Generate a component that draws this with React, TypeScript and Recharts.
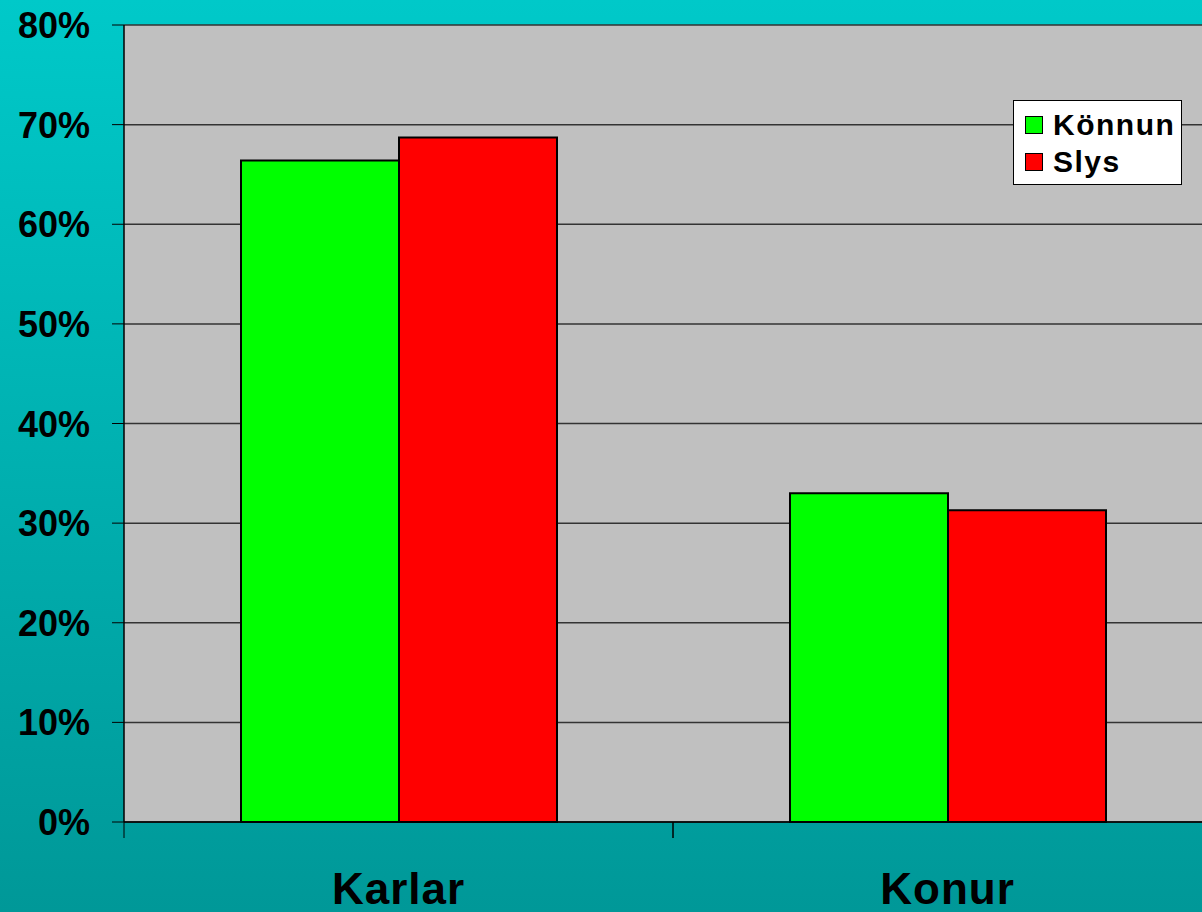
import React from "react";
import { BarChart, Bar, XAxis, YAxis, CartesianGrid } from "recharts";

const categories = ["Karlar", "Konur"];
const konnun = [66.4, 33.0];
const slys = [68.7, 31.3];
const yTicks = [0, 10, 20, 30, 40, 50, 60, 70, 80];
const legendItems = [
  { label: "Könnun", color: "#00ff00" },
  { label: "Slys", color: "#ff0000" },
];

const data = categories.map((c, i) => ({ name: c, Könnun: konnun[i], Slys: slys[i] }));

const FONT = "'Liberation Sans', Arial, sans-serif";

const XTick = (props: any) => {
  const { x, y, payload, bandSize } = props;
  const half = (bandSize || 549) / 2;
  return (
    <g>
      <line x1={x - half} y1={y} x2={x - half} y2={y + 16} stroke="#000" strokeWidth={1} />
      <line x1={x + half} y1={y} x2={x + half} y2={y + 16} stroke="#000" strokeWidth={1} />
      <text x={x} y={y + 82} textAnchor="middle" fontFamily={FONT} fontWeight="bold" fontSize={44} letterSpacing={1} fill="#000">
        {payload.value}
      </text>
    </g>
  );
};

const YTick = (props: any) => {
  const { x, y, payload } = props;
  return (
    <text x={x - 20} y={y + 13} textAnchor="end" fontFamily={FONT} fontWeight="bold" fontSize={36} fill="#000">
      {payload.value}%
    </text>
  );
};

const LegendBox = () => (
  <div
    style={{
      position: "absolute",
      left: 1013,
      top: 100,
      width: 169,
      height: 85,
      background: "#fff",
      border: "1px solid #000",
      fontFamily: FONT,
      fontWeight: "bold",
      fontSize: 30,
      boxSizing: "border-box",
      paddingLeft: 11,
      paddingTop: 5,
    }}
  >
    {legendItems.map((it) => (
      <div key={it.label} style={{ display: "flex", alignItems: "center", height: 37, letterSpacing: 1.5 }}>
        <span
          style={{
            display: "inline-block",
            width: 18,
            height: 18,
            background: it.color,
            border: "1px solid #000",
            boxSizing: "border-box",
            marginRight: 10,
          }}
        />
        <span>{it.label}</span>
      </div>
    ))}
  </div>
);

export default function App() {
  return (
    <div
      style={{
        position: "fixed",
        left: 0,
        top: 0,
        width: 1202,
        height: 912,
        overflow: "hidden",
        background: "linear-gradient(to bottom, #00c9c9 0%, #009898 100%)",
      }}
    >
      <BarChart
        width={1230}
        height={912}
        data={data}
        margin={{ top: 25, right: 8, bottom: 0, left: 0 }}
        barCategoryGap={117}
        barGap={0}
      >
        <CartesianGrid vertical={false} stroke="#333" strokeWidth={1.5} fill="#c0c0c0" fillOpacity={1} />
        <XAxis
          dataKey="name"
          height={90}
          tickLine={false}
          tickSize={0}
          tickMargin={0}
          axisLine={{ stroke: "#000", strokeWidth: 1.5 }}
          tick={<XTick bandSize={549} />}
          interval={0}
        />
        <YAxis
          width={124}
          domain={[0, 80]}
          ticks={yTicks}
          interval={0}
          tickSize={12}
          tickLine={{ stroke: "#000" }}
          axisLine={{ stroke: "#000", strokeWidth: 1.5 }}
          tick={<YTick />}
        />
        <Bar dataKey="Könnun" fill="#00ff00" stroke="#000" strokeWidth={2} isAnimationActive={false} />
        <Bar dataKey="Slys" fill="#ff0000" stroke="#000" strokeWidth={2} isAnimationActive={false} />
      </BarChart>
      <LegendBox />
    </div>
  );
}
